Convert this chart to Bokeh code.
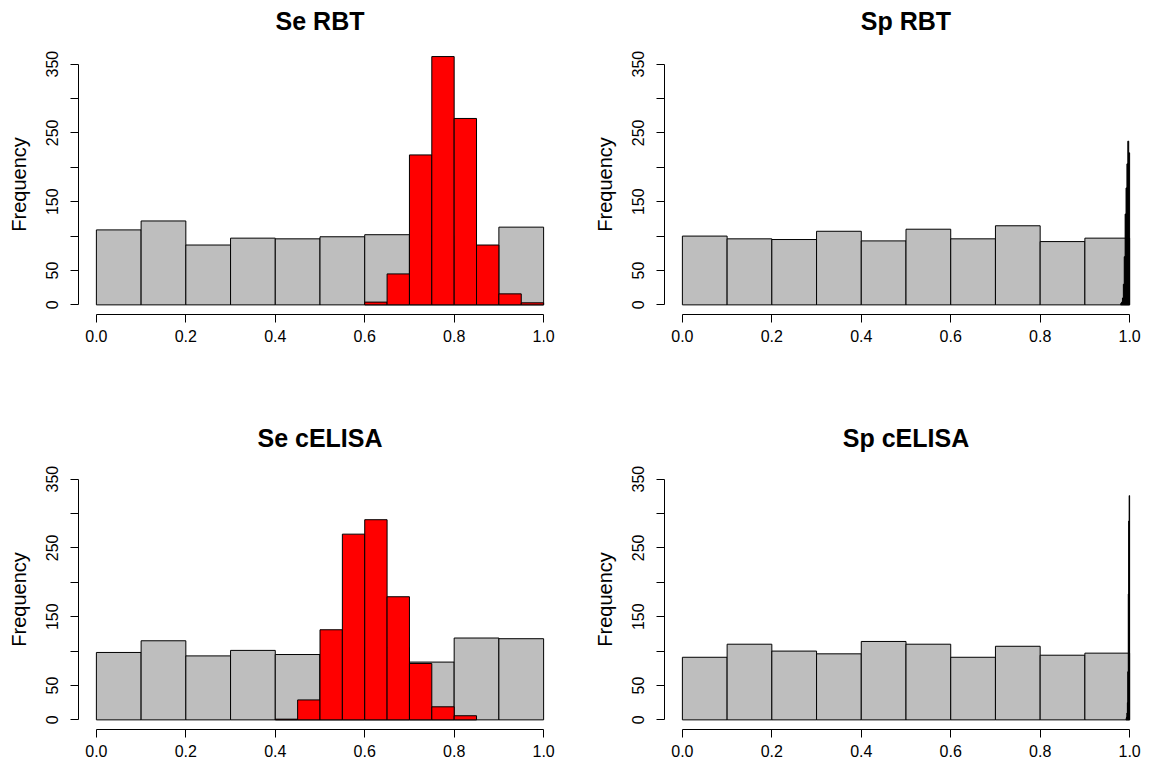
import math
from bokeh.plotting import figure
from bokeh.layouts import gridplot
from bokeh.models import Range1d, FixedTicker, PrintfTickFormatter, LinearAxis
from bokeh.embed import file_html
from bokeh.resources import INLINE

# ---------------- data ----------------
prior_breaks = [0.0, 0.1, 0.2, 0.3, 0.4, 0.5, 0.6, 0.7, 0.8, 0.9, 1.0]

se_rbt_prior = [109, 122, 87, 97, 96, 99, 102, 100, 85, 113]
se_rbt_post_breaks = [0.60, 0.65, 0.70, 0.75, 0.80, 0.85, 0.90, 0.95, 1.00]
se_rbt_post = [4, 45, 218, 361, 271, 87, 16, 3]

sp_rbt_prior = [100, 96, 95, 107, 93, 110, 96, 115, 92, 97]
sp_rbt_post_breaks = [0.980, 0.982, 0.984, 0.986, 0.988, 0.990, 0.992, 0.994, 0.996, 0.998, 1.000]
sp_rbt_post = [2, 4, 10, 30, 70, 132, 170, 205, 238, 221]

se_celisa_prior = [98, 115, 93, 101, 95, 95, 105, 84, 119, 118]
se_celisa_post_breaks = [0.40, 0.45, 0.50, 0.55, 0.60, 0.65, 0.70, 0.75, 0.80, 0.85]
se_celisa_post = [1, 29, 131, 270, 291, 179, 82, 19, 6]

sp_celisa_prior = [91, 110, 100, 96, 114, 110, 91, 107, 94, 97]
sp_celisa_post_breaks = [0.992, 0.993, 0.994, 0.995, 0.996, 0.997, 0.998, 0.999, 1.000]
sp_celisa_post = [2, 4, 10, 25, 70, 183, 289, 326]

x_ticks = [0.0, 0.2, 0.4, 0.6, 0.8, 1.0]
y_ticks = [0, 50, 100, 150, 200, 250, 300, 350]
y_hidden_labels = [100, 200, 300]

FONT = "Liberation Sans"
Y_MIN, Y_MAX = -14, 364


def make_panel(title, prior, post_breaks, post, post_fill, post_line,
               width, height, bl, br, bt, bb, title_gap):
    p = figure(width=width, height=height, output_backend="svg",
               toolbar_location=None,
               x_range=Range1d(-0.04, 1.04), y_range=Range1d(Y_MIN, Y_MAX),
               min_border_left=bl, min_border_right=br,
               min_border_top=bt, min_border_bottom=bb)
    p.outline_line_color = None
    p.xgrid.grid_line_color = None
    p.ygrid.grid_line_color = None
    p.background_fill_color = "white"
    p.border_fill_color = "white"

    p.quad(left=prior_breaks[:-1], right=prior_breaks[1:], top=prior, bottom=0,
           fill_color="#BEBEBE", line_color="black", line_width=1)
    p.quad(left=post_breaks[:-1], right=post_breaks[1:], top=post, bottom=0,
           fill_color=post_fill, line_color=post_line, line_width=1)

    # R-style main title: an empty axis above whose label is the title
    ta = LinearAxis(ticker=FixedTicker(ticks=[]), axis_line_color=None,
                    major_tick_line_color=None, minor_tick_line_color=None,
                    major_tick_out=0, major_tick_in=0, major_label_standoff=0,
                    axis_label=title, axis_label_text_font=FONT,
                    axis_label_text_font_size="25px",
                    axis_label_text_font_style="bold",
                    axis_label_text_color="black",
                    axis_label_standoff=title_gap)
    p.add_layout(ta, "above")

    xa = p.below[0]
    xa.ticker = FixedTicker(ticks=x_ticks)
    xa.formatter = PrintfTickFormatter(format="%.1f")
    xa.bounds = (0, 1)
    xa.axis_line_color = "black"
    xa.major_tick_line_color = "black"
    xa.major_tick_out = 8
    xa.major_tick_in = 0
    xa.minor_tick_line_color = None
    xa.major_label_text_font = FONT
    xa.major_label_text_font_size = "16px"
    xa.major_label_text_color = "black"
    xa.major_label_standoff = 7

    ya = p.left[0]
    ya.ticker = FixedTicker(ticks=y_ticks)
    ya.major_label_overrides = {v: "" for v in y_hidden_labels}
    ya.bounds = (0, 350)
    ya.axis_line_color = "black"
    ya.major_tick_line_color = "black"
    ya.major_tick_out = 8
    ya.major_tick_in = 0
    ya.minor_tick_line_color = None
    ya.major_label_text_font = FONT
    ya.major_label_text_font_size = "16px"
    ya.major_label_text_color = "black"
    ya.major_label_orientation = "vertical"
    ya.major_label_standoff = 12
    ya.axis_label = "Frequency"
    ya.axis_label_text_font = FONT
    ya.axis_label_text_font_size = "20px"
    ya.axis_label_text_font_style = "normal"
    ya.axis_label_text_color = "black"
    ya.axis_label_standoff = 14
    return p


p1 = make_panel("Se RBT", se_rbt_prior, se_rbt_post_breaks, se_rbt_post, "#FF0000", "black",
                578, 400, 78, 17, 54, 86, 20)
p2 = make_panel("Sp RBT", sp_rbt_prior, sp_rbt_post_breaks, sp_rbt_post, "black", "black",
                570, 400, 86, 1, 54, 86, 20)
p3 = make_panel("Se cELISA", se_celisa_prior, se_celisa_post_breaks, se_celisa_post, "#FF0000", "black",
                578, 364, 78, 17, 69, 35, 18)
p4 = make_panel("Sp cELISA", sp_celisa_prior, sp_celisa_post_breaks, sp_celisa_post, "black", "black",
                570, 364, 86, 1, 69, 35, 18)

grid = gridplot([[p1, p2], [p3, p4]], toolbar_location=None)

open("out.html", "w").write(file_html(grid, INLINE))
